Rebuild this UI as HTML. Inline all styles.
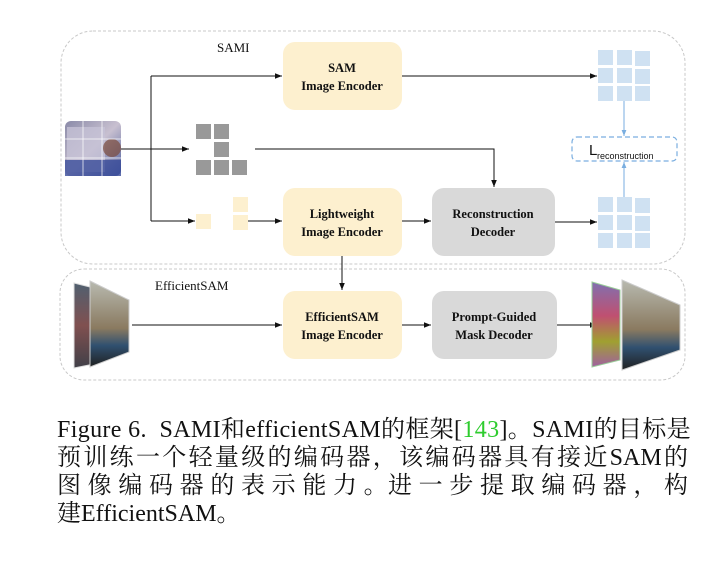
<!DOCTYPE html>
<html><head><meta charset="utf-8"><style>
body{margin:0;background:#fff;width:711px;height:579px;overflow:hidden;position:relative}
svg{position:absolute;left:0;top:0}
.cap{position:absolute;left:57px;width:631px;font-family:"Liberation Serif","Noto Serif CJK SC",serif;font-size:24px;color:#111;line-height:28px;white-space:nowrap}
.j{text-align:justify;text-align-last:justify}
</style></head><body>
<svg width="711" height="400" viewBox="0 0 711 400" font-family="Liberation Serif, serif">
<defs>
<marker id="a" viewBox="0 0 10 10" refX="10" refY="5" markerWidth="7" markerHeight="7" orient="auto"><path d="M0,1 L10,5 L0,9z" fill="#111"/></marker>
<marker id="b" viewBox="0 0 10 10" refX="10" refY="5" markerWidth="6" markerHeight="6" orient="auto"><path d="M0,1 L10,5 L0,9z" fill="#7aaee0"/></marker>
<linearGradient id="cup" x1="0" y1="0" x2="1" y2="1"><stop offset="0" stop-color="#8a8aa8"/><stop offset=".5" stop-color="#c8c0d0"/><stop offset="1" stop-color="#4a5a9a"/></linearGradient>
<linearGradient id="ph" x1="0" y1="0" x2="0" y2="1"><stop offset="0" stop-color="#b8bab0"/><stop offset=".55" stop-color="#8a7a60"/><stop offset=".75" stop-color="#305070"/><stop offset="1" stop-color="#202020"/></linearGradient>
<linearGradient id="sh" x1="0" y1="0" x2="0" y2="1"><stop offset="0" stop-color="#506070"/><stop offset=".5" stop-color="#805050"/><stop offset="1" stop-color="#404048"/></linearGradient>
<linearGradient id="sh2" x1="0" y1="0" x2="0" y2="1"><stop offset="0" stop-color="#8070b0"/><stop offset=".4" stop-color="#c05070"/><stop offset=".7" stop-color="#a0a030"/><stop offset="1" stop-color="#a060a0"/></linearGradient>
</defs>
<rect x="61" y="31" width="624" height="233" rx="32" fill="none" stroke="#c8c8c8" stroke-dasharray="3,2"/>
<rect x="60" y="269" width="625" height="111" rx="24" fill="none" stroke="#c8c8c8" stroke-dasharray="3,2"/>
<text x="217" y="52" font-size="13" fill="#111">SAMI</text>
<text x="155" y="290" font-size="13" fill="#111">EfficientSAM</text>
<g font-weight="bold" font-size="12.5" text-anchor="middle" fill="#111">
<rect x="283" y="42" width="119" height="68" rx="12" fill="#fdf0cf"/>
<text x="342" y="72">SAM</text><text x="342" y="90">Image Encoder</text>
<rect x="283" y="188" width="119" height="68" rx="12" fill="#fdf0cf"/>
<text x="342" y="218">Lightweight</text><text x="342" y="236">Image Encoder</text>
<rect x="432" y="188" width="123" height="68" rx="12" fill="#d9d9d9"/>
<text x="493" y="218">Reconstruction</text><text x="493" y="236">Decoder</text>
<rect x="283" y="291" width="119" height="68" rx="12" fill="#fdf0cf"/>
<text x="342" y="321">EfficientSAM</text><text x="342" y="339">Image Encoder</text>
<rect x="432" y="291" width="125" height="68" rx="12" fill="#d9d9d9"/>
<text x="494" y="321">Prompt-Guided</text><text x="494" y="339">Mask Decoder</text>
</g>
<rect x="65" y="121" width="56" height="55" rx="6" fill="url(#cup)"/>
<rect x="67" y="127" width="38" height="45" fill="#c6c2d6" opacity=".8"/>
<rect x="65" y="160" width="56" height="16" fill="#3a4c9a" opacity=".8"/>
<circle cx="112" cy="148" r="9" fill="#7a4a3a" opacity=".7"/>
<g stroke="#fff" stroke-opacity=".7"><line x1="83" y1="121" x2="83" y2="176"/><line x1="102" y1="121" x2="102" y2="176"/><line x1="65" y1="139" x2="121" y2="139"/><line x1="65" y1="158" x2="121" y2="158"/></g>
<g fill="#999"><rect x="196" y="124" width="15" height="15"/><rect x="214" y="124" width="15" height="15"/><rect x="214" y="142" width="15" height="15"/><rect x="196" y="160" width="15" height="15"/><rect x="214" y="160" width="15" height="15"/><rect x="232" y="160" width="15" height="15"/></g>
<g fill="#fdf0cf"><rect x="196" y="214" width="15" height="15"/><rect x="233" y="197" width="15" height="15"/><rect x="233" y="215" width="15" height="15"/></g>
<g fill="#cfe1f2">
<rect x="598" y="50" width="15" height="15"/><rect x="617" y="50" width="15" height="15"/><rect x="635" y="51" width="15" height="15"/>
<rect x="598" y="68" width="15" height="15"/><rect x="617" y="68" width="15" height="15"/><rect x="635" y="69" width="15" height="15"/>
<rect x="598" y="86" width="15" height="15"/><rect x="617" y="86" width="15" height="15"/><rect x="635" y="86" width="15" height="15"/>
<rect x="598" y="197" width="15" height="15"/><rect x="617" y="197" width="15" height="15"/><rect x="635" y="198" width="15" height="15"/>
<rect x="598" y="215" width="15" height="15"/><rect x="617" y="215" width="15" height="15"/><rect x="635" y="216" width="15" height="15"/>
<rect x="598" y="233" width="15" height="15"/><rect x="617" y="233" width="15" height="15"/><rect x="635" y="233" width="15" height="15"/>
</g>
<rect x="572" y="137" width="105" height="24" rx="5" fill="none" stroke="#7aaee0" stroke-width="1.2" stroke-dasharray="5,3"/>
<text x="589" y="155" font-family="Liberation Sans, sans-serif" font-size="15" fill="#111">L</text>
<text x="597" y="159" font-family="Liberation Sans, sans-serif" font-size="9" fill="#111">reconstruction</text>
<line x1="624" y1="101" x2="624" y2="136" stroke="#7aaee0" marker-end="url(#b)"/>
<line x1="624" y1="197" x2="624" y2="162" stroke="#7aaee0" marker-end="url(#b)"/>
<g stroke="#111" stroke-width="1" fill="none">
<line x1="121" y1="149" x2="151" y2="149"/>
<polyline points="151,76 151,221"/>
<line x1="151" y1="76" x2="282" y2="76" marker-end="url(#a)"/>
<line x1="151" y1="149" x2="189" y2="149" marker-end="url(#a)"/>
<line x1="151" y1="221" x2="195" y2="221" marker-end="url(#a)"/>
<polyline points="255,149 494,149 494,187" marker-end="url(#a)"/>
<line x1="248" y1="221" x2="282" y2="221" marker-end="url(#a)"/>
<line x1="402" y1="221" x2="431" y2="221" marker-end="url(#a)"/>
<line x1="402" y1="76" x2="597" y2="76" marker-end="url(#a)"/>
<line x1="555" y1="222" x2="597" y2="222" marker-end="url(#a)"/>
<line x1="342" y1="256" x2="342" y2="290" marker-end="url(#a)"/>
<line x1="132" y1="325" x2="282" y2="325" marker-end="url(#a)"/>
<line x1="402" y1="325" x2="431" y2="325" marker-end="url(#a)"/>
<line x1="557" y1="325" x2="597" y2="325" marker-end="url(#a)"/>
</g>
<polygon points="74,283 94,288 94,364 74,368" fill="url(#sh)" stroke="#ddd"/>
<polygon points="90,281 129,300 129,352 90,367" fill="url(#ph)" stroke="#ccc"/>
<polygon points="592,282 620,290 620,360 592,367" fill="url(#sh2)" stroke="#9c9"/>
<polygon points="622,280 680,305 680,350 622,370" fill="url(#ph)" stroke="#ccc"/>
</svg>
<div class="cap" style="top:416px;letter-spacing:0.35px">Figure 6.&nbsp; SAMI和efficientSAM的框架[<span style="color:#2ecc2e">143</span>]。SAMI的目标是</div>
<div class="cap j" style="top:444px">预训练一个轻量级的编码器，该编码器具有接近SAM的</div>
<div class="cap j" style="top:472px">图 像 编 码 器 的 表 示 能 力 。进 一 步 提 取 编 码 器 ， 构</div>
<div class="cap" style="top:500px">建EfficientSAM。</div>
</body></html>
